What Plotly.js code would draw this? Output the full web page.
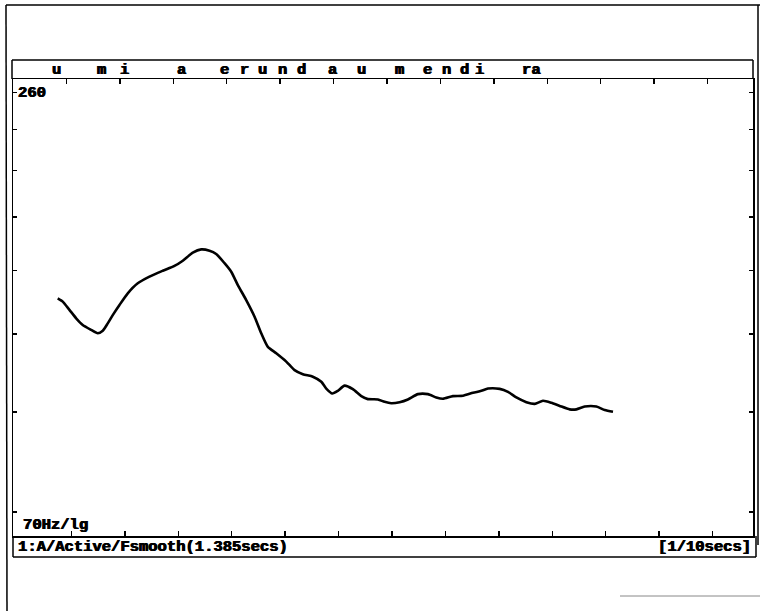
<!DOCTYPE html>
<html>
<head>
<meta charset="utf-8">
<script src="https://cdn.plot.ly/plotly-3.0.1.min.js"></script>
<style>html,body{margin:0;padding:0;background:#fff;}#chart{width:760px;height:611px;}</style>
</head>
<body>
<div id="chart"></div>
<script>
// ---- data ----
const timeSec = [0.0837,0.0931,0.1056,0.1182,0.1305,0.1463,0.1586,0.1680,0.1773,0.1867,0.1993,0.2148,0.2335,0.2554,0.2803,0.3022,0.3178,0.3365,0.3522,0.3678,0.3803,0.3959,0.4084,0.4208,0.4365,0.4521,0.4646,0.4770,0.4927,0.5114,0.5270,0.5425,0.5612,0.5770,0.5863,0.5976,0.6080,0.6206,0.6361,0.6519,0.6642,0.6830,0.6955,0.7080,0.7236,0.7391,0.7579,0.7766,0.7923,0.8047,0.8234,0.8421,0.8609,0.8766,0.8890,0.9109,0.9264,0.9421,0.9609,0.9764,0.9919,1.0077,1.0232,1.0419,1.0545,1.0700,1.0919,1.1075,1.1230];
const pitchHz = [138.5,137.2,134.0,130.8,128.3,126.5,125.3,126.2,128.9,132.0,135.9,140.5,144.6,147.4,149.9,152.0,154.3,157.9,159.4,158.8,157.3,153.2,149.5,143.9,137.8,131.4,125.3,120.5,118.3,115.5,112.7,111.4,110.6,109.0,106.9,105.4,106.2,107.8,106.7,104.6,103.7,103.6,102.9,102.5,102.8,103.6,105.2,105.2,104.2,103.8,104.6,104.7,105.6,106.2,106.9,106.8,105.9,104.2,102.8,102.3,103.2,102.6,101.7,100.7,100.7,101.5,101.5,100.5,100.0];
const segLabels = ["u","m","i","a","e","r","u","n","d","a","u","m","e","n","d","i","ra"];
const segTimes  = [0.0813,0.1655,0.2086,0.3154,0.3959,0.4333,0.4670,0.5046,0.5401,0.5981,0.6524,0.7236,0.7760,0.8116,0.8453,0.8734,0.9708];
const yTickVals = [75,100,125,150,175,200,225,250];
const xTickVals = [0.1,0.2,0.3,0.4,0.5,0.6,0.7,0.8,0.9,1.0,1.1,1.2,1.3];
const totalSec = 1.385;
const yMin = 70, yMax = 260;
const topLabel = "260";
const bottomLabel = "70Hz/lg";
const statusLeft = "1:A/Active/Fsmooth(1.385secs)";
const statusRight = "[1/10secs]";

// ---- layout geometry ----
const W = 760, H = 611;
const M = {l: 13, r: 7, t: 79, b: 75};
const plotW = W - M.l - M.r, plotH = H - M.t - M.b;
const px = x => (x - M.l) / plotW;
const py = y => (H - M.b - y) / plotH;
const FONT = {family: "Liberation Mono, DejaVu Sans Mono, monospace", size: 15.5, color: "#000", weight: "bold",
              shadow: "0.6px 0 0 #000, -0.4px 0 0 #000"};
const bShift = 5 / (plotW / totalSec);

function line(x0, y0, x1, y1, w, c) {
  return {type: "line", xref: "paper", yref: "paper", x0: px(x0), y0: py(y0), x1: px(x1), y1: py(y1),
          line: {color: c || "#000", width: w || 1.5}, layer: "above"};
}

const shapes = [
  // outer frame
  line(6, 5, 760, 5, 1.5),
  line(6, 5, 7, 611, 1.5),
  line(758, 5, 758, 545, 1.5),
  line(620, 596, 760, 596, 1, "#888"),
  // header box
  line(12, 60, 753, 60, 1.5),
  line(12, 60, 12, 79, 1.5),
  line(753, 60, 753, 79, 1.5),
  // status box
  line(13, 557, 756, 557, 1.5),
  line(13, 536, 13, 557, 1.5),
  line(756, 536, 756, 557, 1.5)
];

const annotations = [];
segLabels.forEach((s, i) => {
  annotations.push({text: s, x: segTimes[i], xref: "x2", y: py(69.5), yref: "paper",
    showarrow: false, xanchor: "center", yanchor: "middle", font: FONT});
});
annotations.push({text: topLabel, x: px(16), y: py(93), xref: "paper", yref: "paper", showarrow: false, xanchor: "left", yanchor: "middle", font: FONT});
annotations.push({text: bottomLabel, x: px(21), y: py(525), xref: "paper", yref: "paper", showarrow: false, xanchor: "left", yanchor: "middle", font: FONT});
annotations.push({text: statusLeft, x: px(16), y: py(547), xref: "paper", yref: "paper", showarrow: false, xanchor: "left", yanchor: "middle", font: FONT});
annotations.push({text: statusRight, x: px(753), y: py(547), xref: "paper", yref: "paper", showarrow: false, xanchor: "right", yanchor: "middle", font: FONT});

const trace = {
  x: timeSec, y: pitchHz, xaxis: "x2", yaxis: "y", type: "scatter", mode: "lines",
  line: {color: "#000", width: 2.6, shape: "spline", smoothing: 0.6},
  hoverinfo: "skip"
};
// dummy trace to activate bottom axis
const dummy = {x: [0.5], y: [100], xaxis: "x", yaxis: "y", mode: "markers", marker: {opacity: 0}, hoverinfo: "skip", showlegend: false};

const layout = {
  width: W, height: H, margin: M, showlegend: false,
  paper_bgcolor: "#fff", plot_bgcolor: "#fff",
  xaxis: {range: [-bShift, totalSec - bShift], tickvals: xTickVals, ticks: "inside", ticklen: 5, tickwidth: 1.5,
          tickcolor: "#000", showticklabels: false, showgrid: false, zeroline: false,
          showline: true, linecolor: "#000", linewidth: 1.5, side: "bottom"},
  xaxis2: {range: [0, totalSec], tickvals: xTickVals, ticks: "inside", ticklen: 5, tickwidth: 1.5,
           tickcolor: "#000", showticklabels: false, showgrid: false, zeroline: false,
           showline: true, linecolor: "#000", linewidth: 1.5, side: "top", overlaying: "x"},
  yaxis: {type: "log", range: [Math.log10(yMin), Math.log10(yMax)], tickvals: yTickVals, ticks: "inside",
          ticklen: 4, tickwidth: 1.5, tickcolor: "#000", showticklabels: false, showgrid: false,
          zeroline: false, showline: true, linecolor: "#000", linewidth: 1.5, mirror: "ticks"},
  shapes: shapes, annotations: annotations
};

Plotly.newPlot("chart", [dummy, trace], layout, {staticPlot: true, displayModeBar: false});
</script>
</body>
</html>
